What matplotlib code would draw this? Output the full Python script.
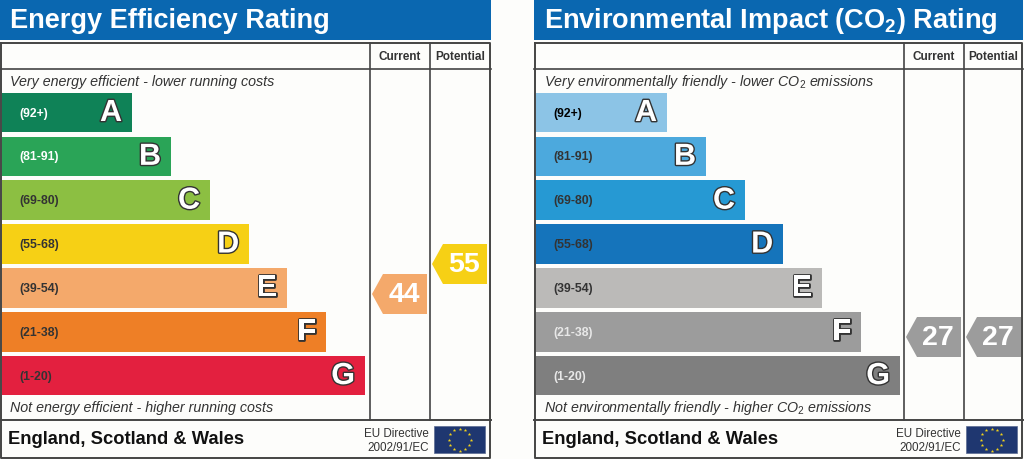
import matplotlib
matplotlib.use('Agg')
import matplotlib.pyplot as plt
import matplotlib.patheffects as pe
import numpy as np
from matplotlib.patches import Polygon, Rectangle

plt.rcParams['font.family'] = ['Liberation Sans', 'DejaVu Sans']
plt.rcParams['mathtext.fontset'] = 'custom'
plt.rcParams['mathtext.rm'] = 'Liberation Sans'
plt.rcParams['mathtext.it'] = 'Liberation Sans:italic'
plt.rcParams['mathtext.bf'] = 'Liberation Sans:bold'

bands = ['A', 'B', 'C', 'D', 'E', 'F', 'G']
ranges = ['(92+)', '(81-91)', '(69-80)', '(55-68)', '(39-54)', '(21-38)', '(1-20)']

# bar lengths in pixels
energy_lengths = [130, 169, 208, 247, 285, 324, 363]
env_lengths = [131, 170, 209, 247, 286, 325, 364]

energy_colors = ['#0f8257', '#2aa457', '#8cbf42', '#f6d015', '#f4a96b', '#ee7f26', '#e3203f']
env_colors = ['#8cc4e6', '#4ca9dd', '#2699d3', '#1574bb', '#bbbab8', '#9c9c9c', '#7f7f7f']
energy_range_colors = ['white', 'white', '#333333', '#333333', '#333333', '#333333', '#333333']
env_range_colors = ['black', '#333333', '#333333', '#333333', '#333333', '#e8e8e8', '#e8e8e8']

energy_current, energy_potential = 44, 55
env_current, env_potential = 27, 27
# vertical centre of each score pointer
energy_pointer_y = [295, 265]
env_pointer_y = [338, 338]

fig = plt.figure(figsize=(10.24, 4.6), dpi=100, facecolor='#fdfdfb')
ax = fig.add_axes([0, 0, 1, 1])
ax.set_xlim(0, 1024)
ax.set_ylim(460, 0)
ax.axis('off')

LINE = '#444444'
bar_y = 113.5 + 43.85 * np.arange(7)


def pointer(x, y, value, color):
    pts = [(x, y), (x + 11, y - 20), (x + 55, y - 20), (x + 55, y + 20), (x + 11, y + 20)]
    ax.add_patch(Polygon(pts, closed=True, fc=color, ec='none', zorder=3))
    ax.text(x + 32, y, str(value), color='white', fontsize=20.5, fontweight='bold',
            ha='center', va='center', zorder=4)


def panel(x0, x1, col1, col2, title, top_text, bottom_text, lengths, colors, range_colors,
          values, pointer_y, pointer_colors):
    ax.add_patch(Rectangle((x0, 0), x1 - x0, 41, fc='#0a67b0', ec='none'))
    ax.text(x0 + 10, 21, title, color='white', fontsize=19.5, fontweight='bold', va='center')

    # frame and columns
    ax.plot([x0 + 1, x1 - 1, x1 - 1, x0 + 1, x0 + 1], [44, 44, 459, 459, 44], color=LINE, lw=1.4)
    ax.plot([x0, x1], [70, 70], color=LINE, lw=1.2)
    ax.plot([x0, x1], [421, 421], color=LINE, lw=1.4)
    ax.plot([col1, col1], [44, 421], color=LINE, lw=1.2)
    ax.plot([col2, col2], [44, 421], color=LINE, lw=1.2)
    ax.text((col1 + col2) / 2, 57, 'Current', fontsize=8.5, fontweight='bold', color='#333333',
            ha='center', va='center')
    ax.text((col2 + x1) / 2, 57, 'Potential', fontsize=8.5, fontweight='bold', color='#333333',
            ha='center', va='center')

    ax.text(x0 + 10, 82, top_text, fontsize=10.3, style='italic', color='#333333', va='center')
    ax.text(x0 + 10, 408, bottom_text, fontsize=10.3, style='italic', color='#333333', va='center')

    ax.barh(bar_y, lengths, height=39.5, left=x0 + 2, color=colors, zorder=2)
    for y, w, band, rng, rc in zip(bar_y, lengths, bands, ranges, range_colors):
        ax.text(x0 + 19, y, rng, fontsize=8.8, fontweight='bold', color=rc, va='center', zorder=3)
        ax.text(x0 + 2 + w - 10, y + 0.5, band, fontsize=22, fontweight='bold', color='white',
                ha='right', va='center', zorder=4,
                path_effects=[pe.withStroke(linewidth=2, foreground='#333333')])

    pointer(col1 + 2, pointer_y[0], values[0], pointer_colors[0])
    pointer(col2 + 2, pointer_y[1], values[1], pointer_colors[1])

    # footer
    ax.text(x0 + 8, 440, 'England, Scotland & Wales', fontsize=13.2, fontweight='bold',
            color='#111111', va='center')
    ax.text(x1 - 62, 434, 'EU Directive', fontsize=8.4, color='#333333', ha='right', va='center')
    ax.text(x1 - 62, 448, '2002/91/EC', fontsize=8.4, color='#333333', ha='right', va='center')
    ax.add_patch(Rectangle((x1 - 57, 427), 51, 27, fc='#1f3770', ec='#5a6a90', lw=0.5))
    ang = np.arange(12) * np.pi / 6
    ax.scatter(x1 - 31.5 + 11 * np.cos(ang), 440.5 + 11 * np.sin(ang), marker='*', s=7,
               color='#f2d21b', linewidths=0, zorder=3)


panel(0, 491, 370, 430, 'Energy Efficiency Rating',
      'Very energy efficient - lower running costs',
      'Not energy efficient - higher running costs',
      energy_lengths, energy_colors, energy_range_colors,
      [energy_current, energy_potential], energy_pointer_y, ['#f4a96b', '#f6d015'])

panel(534, 1023, 904, 964, 'Environmental Impact (CO$_\\mathbf{2}$) Rating',
      'Very environmentally friendly - lower CO$_2$ emissions',
      'Not environmentally friendly - higher CO$_2$ emissions',
      env_lengths, env_colors, env_range_colors,
      [env_current, env_potential], env_pointer_y, ['#9c9c9c', '#9c9c9c'])

fig.savefig('out.png', dpi=100, facecolor=fig.get_facecolor())
